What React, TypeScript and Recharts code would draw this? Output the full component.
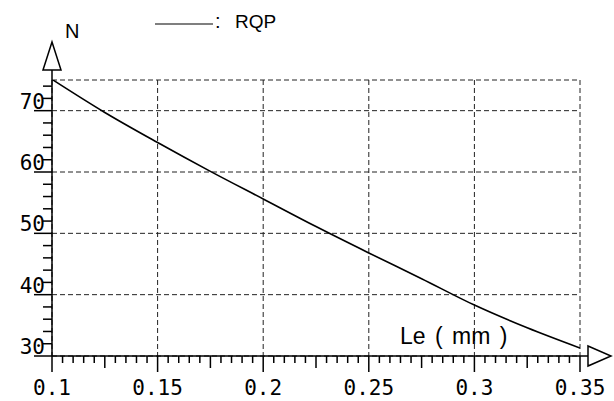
import React from 'react';
import { LineChart, Line, XAxis, YAxis, CartesianGrid, Legend, ReferenceDot } from 'recharts';

// ---- data ----
const leValues = [0.1, 0.125, 0.15, 0.175, 0.2, 0.225, 0.25, 0.275, 0.3, 0.325, 0.35];
const rqpValues = [75.1, 69.7, 64.8, 60.1, 55.6, 51.1, 46.8, 42.6, 38.3, 34.6, 31.3];
const xMajorTicks = [0.1, 0.15, 0.2, 0.25, 0.3, 0.35];
const xTickLabels = ['0.1', '0.15', '0.2', '0.25', '0.3', '0.35'];
const yMajorTicks = [30, 40, 50, 60, 70];
const yTickLabels = ['30', '40', '50', '60', '70'];
const yGridValues = [30, 40, 50, 60, 70, 75];
const xDomain = [0.1, 0.35];
const yDomain = [30, 75];
const seriesName = 'RQP';
const xTitle = 'Le ( mm )';
const yTitle = 'N';

// minor tick positions (every 0.005 on x, every 2 on y)
const xAllTicks: number[] = [];
for (let i = 0; i <= 50; i++) xAllTicks.push(Math.round((0.1 + i * 0.005) * 1000) / 1000);
const yAllTicks: number[] = [];
for (let v = 30; v <= 74; v += 2) yAllTicks.push(v);

const data = leValues.map((le, i) => ({ le, rqp: rqpValues[i] }));

const MONO = '"DejaVu Sans Mono", "Liberation Mono", monospace';
const SANS = '"Liberation Sans", Arial, sans-serif';
const NARROW = '"Liberation Sans Narrow", "Liberation Sans", sans-serif';

const near = (a: number, b: number) => Math.abs(a - b) < 1e-9;

const XTick = (props: any) => {
  const { x, y, payload } = props;
  const v = payload.value as number;
  const mi = xMajorTicks.findIndex((m) => near(m, v));
  const idx = Math.round((v - 0.1) / 0.005);
  const len = mi >= 0 ? 16 : idx % 5 === 0 ? 12 : 7;
  return (
    <g>
      <line x1={x} x2={x} y1={y} y2={y + len} stroke="#000" strokeWidth={1.5} />
      {mi >= 0 && (
        <text x={x} y={y + 39} textAnchor="middle" fontFamily={MONO} fontSize={21} fill="#000">
          {xTickLabels[mi]}
        </text>
      )}
    </g>
  );
};

const YTick = (props: any) => {
  const { x, y, payload } = props;
  const v = payload.value as number;
  const mi = yMajorTicks.indexOf(v);
  const len = mi >= 0 ? 18 : 9;
  return (
    <g>
      <line x1={x - len} x2={x} y1={y} y2={y} stroke="#000" strokeWidth={1.5} />
      {mi >= 0 && (
        <text x={x - 7} y={y - 2} textAnchor="end" fontFamily={MONO} fontSize={21} fill="#000">
          {yTickLabels[mi]}
        </text>
      )}
    </g>
  );
};

const YArrow = (p: any) => {
  const { cx, cy } = p;
  return (
    <g>
      <line x1={cx} x2={cx} y1={cy} y2={cy - 10} stroke="#000" strokeWidth={1.5} />
      <path d={`M${cx - 9},${cy - 10} L${cx},${cy - 38} L${cx + 9},${cy - 10} Z`} fill="#fff" stroke="#000" strokeWidth={1.5} />
    </g>
  );
};

const XArrow = (p: any) => {
  const { cx, cy } = p;
  return (
    <g>
      <line x1={cx} x2={cx + 8} y1={cy} y2={cy} stroke="#000" strokeWidth={1.5} />
      <path d={`M${cx + 8},${cy - 10} L${cx + 31},${cy} L${cx + 8},${cy + 10} Z`} fill="#fff" stroke="#000" strokeWidth={1.5} />
    </g>
  );
};

const renderLegend = () => (
  <svg width={140} height={34} style={{ display: 'block' }}>
    <line x1={5} y1={24} x2={63} y2={24} stroke="#000" strokeWidth={1.2} />
    <text x={65} y={28} fontFamily={NARROW} fontSize={20} fill="#000">:</text>
    <text x={85} y={28} fontFamily={NARROW} fontSize={19} fill="#000">{seriesName}</text>
  </svg>
);

export default function App() {
  return (
    <div style={{ position: 'absolute', left: 0, top: 0, width: 614, height: 401, background: '#fff' }}>
      <LineChart width={614} height={401} data={data} margin={{ top: 80, right: 34, bottom: 0, left: 0 }}>
        <CartesianGrid
          horizontalValues={yGridValues}
          verticalValues={xMajorTicks}
          stroke="#222"
          strokeWidth={1}
          strokeDasharray="5 3"
        />
        <XAxis
          type="number"
          dataKey="le"
          domain={xDomain}
          ticks={xAllTicks}
          interval={0}
          tickSize={0}
          tickMargin={0}
          tickLine={false}
          tick={<XTick />}
          height={45}
          axisLine={{ stroke: '#000', strokeWidth: 1.5 }}
          allowDataOverflow
          label={{
            content: (lp: any) => {
              const vb = lp.viewBox || { x: 52, y: 356 };
              return (
                <text
                  x={vb.x + 348}
                  y={vb.y - 12}
                  fontFamily={SANS}
                  fontSize={23}
                  fill="#000"
                  wordSpacing={3}
                  style={{ whiteSpace: 'pre' }}
                >
                  {xTitle}
                </text>
              );
            },
          }}
        />
        <YAxis
          type="number"
          domain={yDomain}
          ticks={yAllTicks}
          interval={0}
          tickSize={0}
          tickMargin={0}
          tickLine={false}
          tick={<YTick />}
          width={52}
          axisLine={{ stroke: '#000', strokeWidth: 1.5 }}
          allowDataOverflow
          label={{
            content: (lp: any) => {
              const vb = lp.viewBox || { x: 0, y: 80, width: 52 };
              return (
                <text x={vb.x + vb.width + 13} y={vb.y - 42} fontFamily={SANS} fontSize={20} fill="#000">
                  {yTitle}
                </text>
              );
            },
          }}
        />
        <Legend
          layout="horizontal"
          verticalAlign="middle"
          align="center"
          content={renderLegend}
          wrapperStyle={{ position: 'absolute', top: 0, left: 150, width: 140, height: 34 }}
        />
        <ReferenceDot x={xDomain[0]} y={yDomain[1]} ifOverflow="visible" shape={<YArrow />} />
        <ReferenceDot x={xDomain[1]} y={yDomain[0]} ifOverflow="visible" shape={<XArrow />} />
        <Line
          type="monotone"
          dataKey="rqp"
          name={seriesName}
          stroke="#000"
          strokeWidth={1.6}
          dot={false}
          isAnimationActive={false}
        />
      </LineChart>
    </div>
  );
}
